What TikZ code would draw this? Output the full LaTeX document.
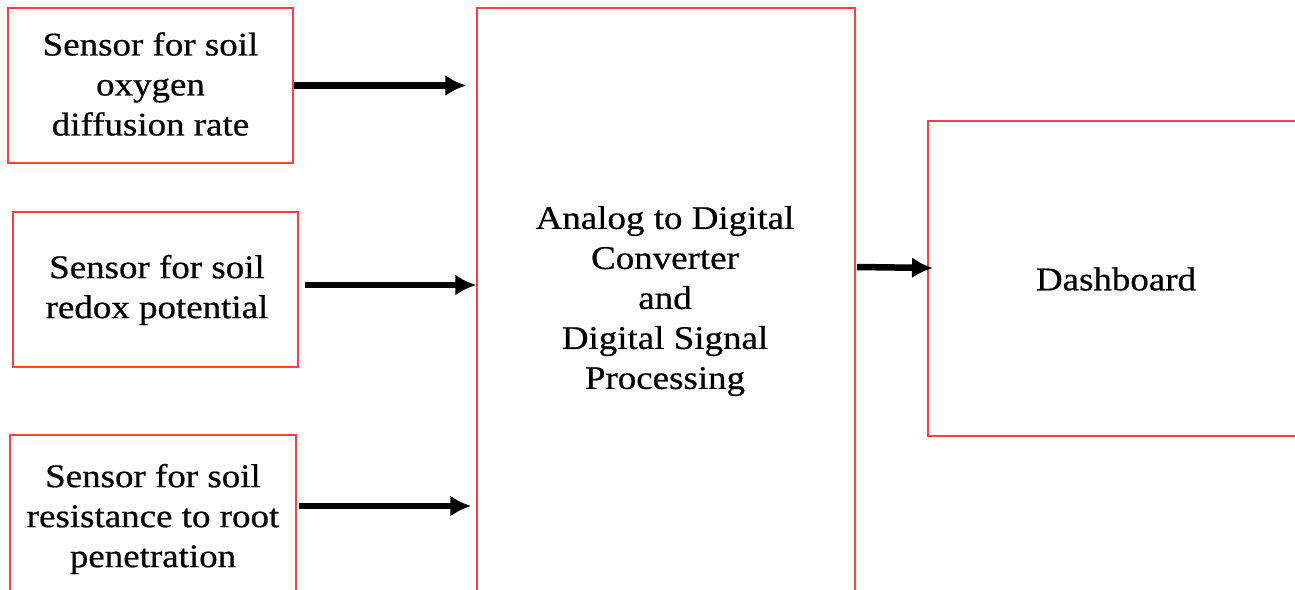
\documentclass[tikz,border=0pt]{standalone}
\usepackage{fontspec}
\setmainfont{Liberation Serif}[FakeStretch=1.12,FakeBold=0.6]
\usetikzlibrary{arrows.meta}
\tikzset{
  blk/.style={draw=red!75, line width=1.2pt, fill=none, inner sep=0pt, align=center,
    font=\fontsize{33}{40}\selectfont},
  arr/.style={line width=6.5pt, -{Latex[length=21pt,width=21pt]}}
}
\begin{document}
\begin{tikzpicture}[x=1pt,y=-1pt]
\useasboundingbox (0,0) rectangle (1295,589);
\clip (0,0) rectangle (1295,589);
\fill[white] (0,0) rectangle (1295,589);
\node[blk, minimum width=285pt, minimum height=155pt] (s1) at (150.5,85.5) {};
\node[font=\fontsize{33}{40}\selectfont, align=center] (s1t) at (150.5,84) {Sensor for soil\\oxygen\\diffusion rate};
\node[blk, minimum width=285pt, minimum height=155pt] (s2) at (155.5,289.5) {};
\node[font=\fontsize{33}{40}\selectfont, align=center] (s2t) at (157,290) {Sensor for soil\\redox potential};
\node[blk, minimum width=286pt, minimum height=200pt] (s3) at (153,535) {};
\node[font=\fontsize{33}{40}\selectfont, align=center] (s3t) at (153,519) {Sensor for soil\\resistance to root\\penetration};
\node[blk, minimum width=378pt, minimum height=640pt] (adc) at (666,328) {};
\node[font=\fontsize{33}{40}\selectfont, align=center] (adct) at (665,301) {Analog to Digital\\Converter\\and\\Digital Signal\\Processing};
\node[blk, minimum width=420pt, minimum height=315pt] (dash) at (1138,278.5) {};
\node[font=\fontsize{33}{40}\selectfont] (dasht) at (1116,279) {Dashboard};
\draw[arr, shorten >=10pt] (s1.east) -- (adc.west |- s1.east);
\draw[arr, shorten <=6pt] (s2.east |- 0,285) -- (adc.west |- 0,285);
\coordinate (a3) at (299,506);
\draw[arr, shorten >=5pt] (a3) -- (adc.west |- a3);
\coordinate (a4) at (857,267);
\coordinate (a4e) at (933,268);
\draw[arr] (a4) -- (a4e);
\end{tikzpicture}
\end{document}
